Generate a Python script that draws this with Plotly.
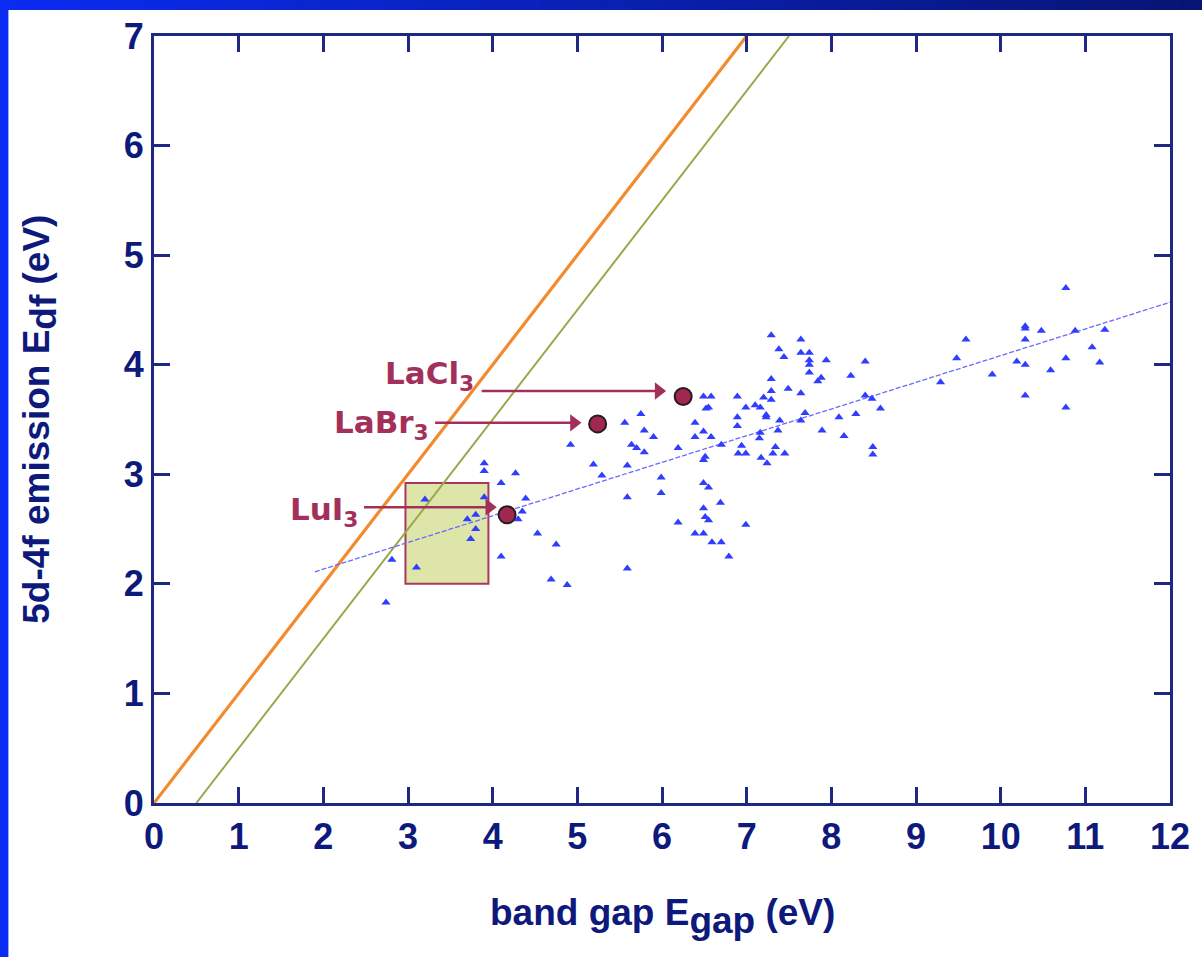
import plotly.graph_objects as go

# ---- data ----
gap_x = [3.90, 3.90, 4.27, 4.10, 4.39, 3.20, 3.90, 4.35, 4.30, 3.70, 3.80, 3.80, 3.74, 4.53, 4.75,
         2.81, 4.10, 3.10, 4.69, 4.88, 2.74,
         6.49, 6.52, 5.75, 5.56, 6.39, 5.79, 5.90, 6.39, 6.49, 4.92, 5.64, 5.70, 5.79, 6.19, 5.19,
         5.59, 5.29, 5.99, 5.99, 5.59, 6.49, 6.49, 6.49, 6.51, 6.19, 6.39, 6.49, 5.59,
         7.29, 7.64, 7.38, 7.44, 7.64, 7.74, 7.74, 7.74, 7.74, 7.94, 7.88, 7.84, 7.29, 7.29, 7.29,
         7.49, 7.64, 7.20, 7.10, 6.99, 7.16, 7.23, 7.23, 6.89, 6.58, 6.55, 6.89, 6.89, 6.58, 7.39,
         7.37, 7.64, 7.69, 8.09, 7.89, 8.15, 7.16, 7.15, 6.70, 6.94, 6.90, 6.99, 7.34, 7.31, 7.45,
         7.17, 7.24, 6.51, 6.55, 6.69, 6.55, 6.99, 6.59, 6.70, 6.79,
         9.59, 9.48, 8.40, 8.23, 9.29, 8.40, 8.48, 8.58, 8.29, 8.49, 8.49,
         10.77, 10.29, 10.29, 10.48, 10.88, 11.23, 10.29, 11.08, 10.19, 10.29, 10.77, 11.17, 10.59,
         9.90, 10.29, 10.77]
emis_y = [3.10, 3.03, 3.01, 2.92, 2.78, 2.77, 2.79, 2.66, 2.59, 2.59, 2.63, 2.50, 2.41, 2.46, 2.36,
          2.22, 2.25, 2.15, 2.04, 1.99, 1.83,
          3.71, 3.60, 3.55, 3.47, 3.47, 3.40, 3.34, 3.34, 3.39, 3.27, 3.27, 3.24, 3.20, 3.24, 3.09,
          3.08, 2.99, 2.97, 2.83, 2.79, 3.13, 2.92, 2.69, 2.61, 2.56, 2.46, 2.46, 2.14,
          4.27, 4.23, 4.14, 4.07, 4.11, 4.11, 4.04, 4.00, 3.93, 4.04, 3.88, 3.85, 3.87, 3.76, 3.68,
          3.78, 3.74, 3.70, 3.63, 3.61, 3.61, 3.54, 3.52, 3.71, 3.71, 3.61, 3.52, 3.44, 3.34, 3.49,
          3.40, 3.49, 3.56, 3.52, 3.40, 3.35, 3.38, 3.33, 3.27, 3.26, 3.19, 3.19, 3.25, 3.19, 3.19,
          3.15, 3.10, 3.16, 2.88, 2.74, 2.58, 2.54, 2.38, 2.38, 2.25,
          4.23, 4.06, 4.03, 3.90, 3.84, 3.72, 3.69, 3.60, 3.55, 3.25, 3.18,
          4.70, 4.35, 4.33, 4.31, 4.31, 4.32, 4.23, 4.16, 4.03, 4.00, 4.06, 4.02, 3.95,
          3.91, 3.72, 3.61]

fit_x = [1.90, 12.0]
fit_y = [2.11, 4.57]
diag1_x = [0.0, 7.0]
diag1_y = [0.0, 7.0]
diag2_x = [0.5, 7.5]
diag2_y = [0.0, 7.0]

named = ["LaCl<sub>3</sub>", "LaBr<sub>3</sub>", "LuI<sub>3</sub>"]
named_x = [6.25, 5.24, 4.17]
named_y = [3.71, 3.46, 2.63]
label_x = [3.80, 3.27, 2.43]
label_y = [3.90, 3.45, 2.66]
arrow_tail_x = [3.87, 3.32, 2.48]
arrow_tip_x = [6.05, 5.05, 4.05]
arrow_y = [3.76, 3.47, 2.70]

box_x = [2.97, 3.95]
box_y = [2.00, 2.92]

x_ticks = list(range(0, 13))
y_ticks = list(range(0, 8))

NAVY = "#0d1a7c"
AXIS = "#1e2783"
MAROON = "#a3305a"
HEAD = 0.09  # arrowhead half-length in x units

fig = go.Figure()
fig.add_trace(go.Scatter(x=diag1_x, y=diag1_y, mode="lines",
                         line=dict(color="#f28a2e", width=3.2), showlegend=False))
fig.add_trace(go.Scatter(x=diag2_x, y=diag2_y, mode="lines",
                         line=dict(color="#9aa84c", width=2), showlegend=False))
fig.add_trace(go.Scatter(x=fit_x, y=fit_y, mode="lines",
                         line=dict(color="#6a6aff", width=1.3, dash="5px,2px"), showlegend=False))
fig.add_trace(go.Scatter(x=gap_x, y=emis_y, mode="markers",
                         marker=dict(symbol="triangle-up", size=8, color="#2f3dff"),
                         showlegend=False))

# arrows (shaft + head) drawn as traces
for i in range(len(named)):
    fig.add_trace(go.Scatter(x=[arrow_tail_x[i], arrow_tip_x[i] - HEAD], y=[arrow_y[i], arrow_y[i]],
                             mode="lines", line=dict(color=MAROON, width=2.5), showlegend=False))
    fig.add_trace(go.Scatter(x=[arrow_tip_x[i] - HEAD], y=[arrow_y[i]], mode="markers",
                             marker=dict(symbol="triangle-right", size=15, color=MAROON),
                             showlegend=False))

fig.add_trace(go.Scatter(x=named_x, y=named_y, mode="markers",
                         marker=dict(symbol="circle", size=17, color="#a02850",
                                     line=dict(color="#2a1a20", width=2)),
                         showlegend=False))

fig.add_shape(type="rect", xref="x", yref="y", x0=box_x[0], x1=box_x[1], y0=box_y[0], y1=box_y[1],
              fillcolor="#dde6a8", line=dict(color="#a8385e", width=2), layer="below")

for i in range(len(named)):
    fig.add_annotation(x=label_x[i], y=label_y[i], xref="x", yref="y", text=named[i],
                       showarrow=False, xanchor="right", yanchor="middle",
                       font=dict(family="DejaVu Sans", size=31, color=MAROON, weight="bold"))

# axis titles
fig.add_annotation(x=0.5, y=-0.148, xref="paper", yref="paper", showarrow=False,
                   text="band gap E<sub><span style='font-size:37px'>gap</span></sub> (eV)",
                   xanchor="center", yanchor="middle",
                   font=dict(family="Liberation Sans", size=37, color=NAVY, weight="bold"))
fig.add_annotation(x=-0.112, y=0.5, xref="paper", yref="paper", showarrow=False, textangle=-90,
                   text="5d-4f emission E<sub><span style='font-size:37px'>df</span></sub> (eV)",
                   xanchor="center", yanchor="middle",
                   font=dict(family="Liberation Sans", size=37, color=NAVY, weight="bold"))

# frame: blue left border and gradient top bar
fig.add_shape(type="rect", xref="paper", yref="paper", x0=-0.16, x1=-0.1433, y0=-0.25, y1=1.06,
              fillcolor="#0a2cf2", line_width=0, layer="above")
n = 40
c0 = (10, 44, 242)
c1 = (8, 20, 115)
xa, xb = -0.16, 1.04
for k in range(n):
    t = k / (n - 1)
    col = "rgb(%d,%d,%d)" % tuple(round(c0[j] + (c1[j] - c0[j]) * t) for j in range(3))
    fig.add_shape(type="rect", xref="paper", yref="paper",
                  x0=xa + (xb - xa) * k / n, x1=xa + (xb - xa) * (k + 1) / n + 0.001,
                  y0=1.0339, y1=1.06, fillcolor=col, line_width=0, layer="above")

axis_common = dict(showline=True, linecolor=AXIS, linewidth=3, mirror="ticks",
                   ticks="inside", ticklen=16, tickwidth=3, tickcolor=AXIS,
                   showgrid=False, zeroline=False,
                   tickfont=dict(family="Liberation Sans", size=36, color=NAVY, weight="bold"))
fig.update_xaxes(range=[0, 12], tickvals=x_ticks, ticktext=[str(v) for v in x_ticks], **axis_common)
fig.update_yaxes(range=[0, 7], tickvals=y_ticks, ticktext=[str(v) for v in y_ticks], **axis_common)

fig.update_layout(width=1202, height=957, margin=dict(l=154, r=29, t=36, b=154),
                  paper_bgcolor="white", plot_bgcolor="white", showlegend=False)

fig.write_html("out.html")
